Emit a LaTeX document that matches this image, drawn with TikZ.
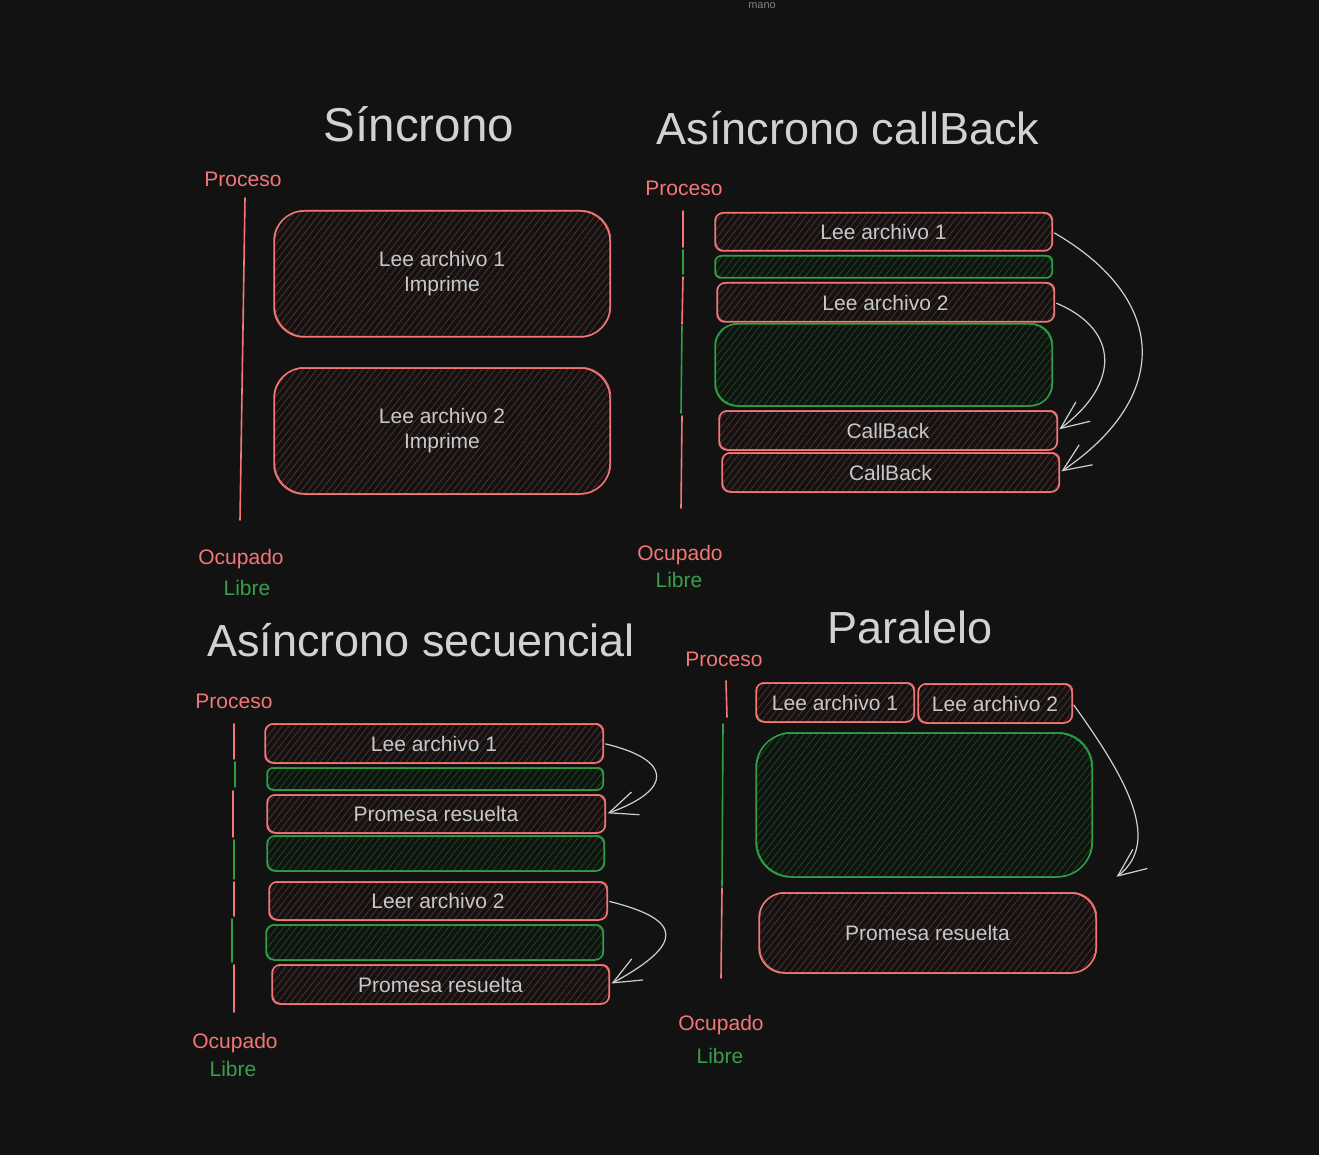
\documentclass[tikz,border=0pt]{standalone}
\usepackage{fontspec}
\setmainfont{Liberation Sans}
\usetikzlibrary{patterns.meta,arrows.meta}
\definecolor{bg}{HTML}{121212}
\definecolor{myred}{HTML}{F47676}
\definecolor{mygreen}{HTML}{2F9E44}
\definecolor{labgreen}{HTML}{3A9E4C}
\definecolor{redhatch}{HTML}{5A2D2D}
\definecolor{greenhatch}{HTML}{12501D}
\definecolor{boxtxt}{HTML}{C8C8C8}
\definecolor{titletxt}{HTML}{D2D2D2}
\definecolor{arrowc}{HTML}{D0D0D0}
\begin{document}
\begin{tikzpicture}[x=1pt,y=-1pt,
  rbox/.style={draw=myred, line width=1.5pt, pattern={Lines[angle=52,distance=5.2pt,line width=0.8pt]}, pattern color=redhatch, text=boxtxt, font=\fontsize{21}{25}\selectfont, align=center, inner sep=0pt,
    postaction={draw=myred, line width=0.6pt, transform canvas={shift={(0.9pt,0.7pt)}}}},
  gbox/.style={draw=mygreen, line width=1.5pt, pattern={Lines[angle=52,distance=5.2pt,line width=0.8pt]}, pattern color=greenhatch, inner sep=0pt,
    postaction={draw=mygreen, line width=0.6pt, transform canvas={shift={(0.9pt,0.7pt)}}}},
  ttl/.style={text=titletxt, font=\fontsize{45}{50}\selectfont, anchor=base, inner sep=0pt},
  redlab/.style={text=myred, font=\fontsize{21}{24}\selectfont, anchor=base, inner sep=0pt},
  greenlab/.style={text=labgreen, font=\fontsize{21}{24}\selectfont, anchor=base, inner sep=0pt},
  rline/.style={draw=myred, line width=1.6pt, line cap=round},
  gline/.style={draw=mygreen, line width=1.6pt, line cap=round},
  arr/.style={draw=arrowc, line width=1.2pt, line cap=round, shorten >=2pt, shorten <=2pt, -{Straight Barb[length=28pt,width=24pt,line width=1.2pt]}}
]
\useasboundingbox[fill=bg] (0,0) rectangle (1319,1155);
\node[text=gray, font=\fontsize{11}{12}\selectfont, anchor=base] (mano) at (762,9) {mano};

% ---------- Síncrono ----------
\node[ttl, font=\fontsize{47.5}{52}\selectfont] (t1) at (419,142) {Síncrono};
\node[redlab] (pr1) at (243,187) {Proceso};
\draw[rline] (245,198) -- (240,520);
\node[rbox, rounded corners=30pt, minimum width=336pt, minimum height=126pt] (a1) at (442,274) {Lee archivo 1\\Imprime};
\node[rbox, rounded corners=30pt, minimum width=336pt, minimum height=126pt] (a2) at (442,431) {Lee archivo 2\\Imprime};
\node[redlab] (oc1) at (241,564) {Ocupado};
\node[greenlab] (li1) at (247,595) {Libre};

% ---------- Asíncrono callBack ----------
\node[ttl] (t2) at (848,145) {Asíncrono callBack};
\node[redlab] (pr2) at (684,196) {Proceso};
\draw[rline] (683,211) -- (683,247);
\draw[gline] (683,250) -- (683,274);
\draw[rline] (683,277) -- (682,324);
\draw[gline] (682,326) -- (681,413);
\draw[rline] (682,416) -- (681,508);
\node[rbox, rounded corners=8pt, minimum width=337pt, minimum height=38pt] (la1) at (883.5,232) {Lee archivo 1};
\node[gbox, rounded corners=6pt, minimum width=337pt, minimum height=22pt] (cg1) at (883.5,267) {};
\node[rbox, rounded corners=8pt, minimum width=337pt, minimum height=39pt] (la2) at (885.5,302.5) {Lee archivo 2};
\node[gbox, rounded corners=22pt, minimum width=337pt, minimum height=82pt] (cg2) at (883.5,365) {};
\node[rbox, rounded corners=8pt, minimum width=338pt, minimum height=39pt] (cb1) at (888,430.5) {CallBack};
\node[rbox, rounded corners=8pt, minimum width=337pt, minimum height=39pt] (cb2) at (890.5,472.5) {CallBack};
\draw[arr] (la1.east) .. controls (1170,300) and (1170,398) .. (cb2.east);
\draw[arr] (la2.east) .. controls (1120,330) and (1120,384) .. (cb1.east);
\node[redlab] (oc2) at (680,560) {Ocupado};
\node[greenlab] (li2) at (679,587) {Libre};

% ---------- Asíncrono secuencial ----------
\node[ttl] (t3) at (421,656) {Asíncrono secuencial};
\node[redlab] (pr3) at (234,708) {Proceso};
\draw[rline] (234,724) -- (234,759);
\draw[gline] (235,762) -- (235,787);
\draw[rline] (233,791) -- (233,837);
\draw[gline] (234,840) -- (234,879);
\draw[rline] (234,882) -- (234,916);
\draw[gline] (232,919) -- (232,962);
\draw[rline] (234,965) -- (234,1012);
\node[rbox, rounded corners=8pt, minimum width=338pt, minimum height=39pt] (s1) at (434,743.5) {Lee archivo 1};
\node[gbox, rounded corners=6pt, minimum width=336pt, minimum height=22pt] (sg1) at (435,779) {};
\node[rbox, rounded corners=8pt, minimum width=338pt, minimum height=38pt] (s2) at (436,814) {Promesa resuelta};
\node[gbox, rounded corners=8pt, minimum width=337pt, minimum height=35pt] (sg2) at (435.5,853.5) {};
\node[rbox, rounded corners=8pt, minimum width=338pt, minimum height=38pt] (s3) at (438,901) {Leer archivo 2};
\node[gbox, rounded corners=8pt, minimum width=337pt, minimum height=35pt] (sg3) at (434.5,942.5) {};
\node[rbox, rounded corners=8pt, minimum width=337pt, minimum height=39pt] (s4) at (440.5,984.5) {Promesa resuelta};
\draw[arr] (s1.east) .. controls (673,760) and (673,790) .. (s2.east);
\draw[arr] (s3.east) .. controls (684,920) and (684,944) .. (s4.east);
\node[redlab] (oc3) at (235,1048) {Ocupado};
\node[greenlab] (li3) at (233,1076) {Libre};

% ---------- Paralelo ----------
\node[ttl] (t4) at (910,643) {Paralelo};
\node[redlab] (pr4) at (724,666) {Proceso};
\draw[rline] (726,681) -- (727,717);
\draw[gline] (723,724) -- (722,886);
\draw[rline] (722,888) -- (721,978);
\node[rbox, rounded corners=8pt, minimum width=158pt, minimum height=39pt] (p1) at (835,702.5) {Lee archivo 1};
\node[rbox, rounded corners=8pt, minimum width=154pt, minimum height=39pt] (p2) at (995,703.5) {Lee archivo 2};
\node[gbox, rounded corners=35pt, minimum width=336pt, minimum height=144pt] (pg) at (924,805) {};
\node[rbox, rounded corners=25pt, minimum width=337pt, minimum height=80pt] (p3) at (927.5,933) {Promesa resuelta};
\coordinate (pend) at (1115,878);
\draw[arr] (p2.east) .. controls (1120,770) and (1165,840) .. (pend);
\node[redlab] (oc4) at (721,1030) {Ocupado};
\node[greenlab] (li4) at (720,1063) {Libre};
\end{tikzpicture}
\end{document}
